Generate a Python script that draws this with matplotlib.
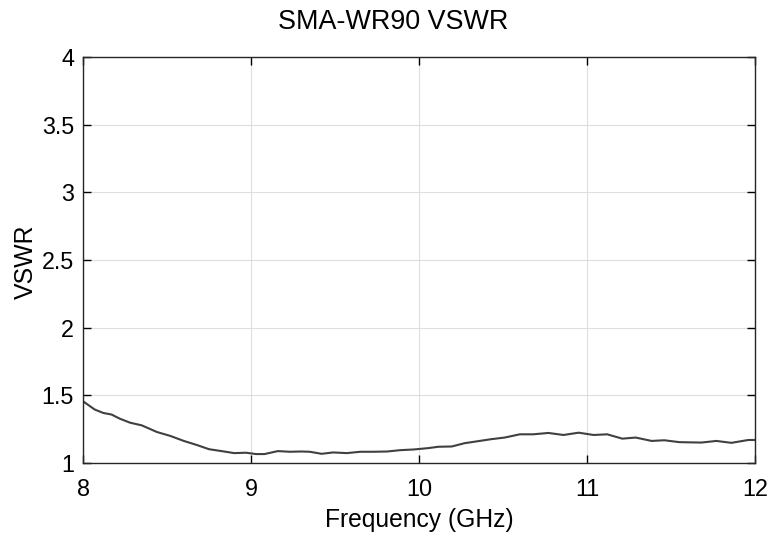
import numpy as np
import matplotlib
matplotlib.use("Agg")
import matplotlib.pyplot as plt

# VSWR
freq_ghz = [8.00, 8.07, 8.12, 8.17, 8.22, 8.28, 8.35, 8.44, 8.52, 8.60,
            8.68, 8.75, 8.84, 8.90, 8.97, 9.03, 9.08, 9.16, 9.23, 9.30,
            9.35, 9.42, 9.49, 9.57, 9.65, 9.73, 9.81, 9.89, 9.97, 10.055,
            10.115, 10.195, 10.27, 10.35, 10.43, 10.51, 10.60, 10.68, 10.77, 10.86,
            10.95, 11.04, 11.12, 11.21, 11.29, 11.385, 11.46, 11.55, 11.68, 11.77,
            11.86, 11.96, 12.00]
vswr = [1.456, 1.395, 1.370, 1.358, 1.327, 1.298, 1.278, 1.229, 1.200, 1.163,
        1.132, 1.102, 1.085, 1.073, 1.076, 1.066, 1.066, 1.088, 1.083, 1.085,
        1.083, 1.068, 1.078, 1.073, 1.083, 1.083, 1.085, 1.095, 1.100, 1.110,
        1.120, 1.122, 1.146, 1.161, 1.176, 1.188, 1.212, 1.212, 1.222, 1.207,
        1.224, 1.207, 1.212, 1.180, 1.188, 1.163, 1.168, 1.154, 1.151, 1.163,
        1.149, 1.170, 1.170]

x_ticks = [8, 9, 10, 11, 12]
y_ticks = [1, 1.5, 2, 2.5, 3, 3.5, 4]
y_tick_labels = ["1", "1.5", "2", "2.5", "3", "3.5", "4"]

plt.rcParams['font.family'] = ['Liberation Sans', 'DejaVu Sans']

W, H = 773, 535
fig = plt.figure(figsize=(W / 100, H / 100), dpi=100)
ax = fig.add_axes([83/W, 1 - 463/H, 672/W, 406/H])

ax.plot(freq_ghz, vswr, color="#404040", linewidth=1.5)

ax.set_xlim(8, 12)
ax.set_ylim(1, 4)
ax.set_xticks(x_ticks)
ax.set_yticks(y_ticks)
ax.set_yticklabels(y_tick_labels)
ax.tick_params(direction="in", top=True, right=True, labelsize=16.8, length=6, width=1)
ax.tick_params(axis="x", pad=11)
ax.tick_params(axis="y", pad=6.5)
ax.grid(True, color="#dedede", linewidth=0.8)
for s in ax.spines.values():
    s.set_linewidth(1)
    s.set_color("#262626")

# labels placed at baseline positions measured on the reference
fig.text(419.5/W, 1 - 527.5/H, "Frequency (GHz)", fontsize=17.7,
         ha="center", va="baseline")
fig.text(33/W, 1 - 262/H, "VSWR", fontsize=17.9, rotation=90,
         rotation_mode="anchor", ha="center", va="baseline")
fig.text(393/W, 1 - 29.3/H, "SMA-WR90 VSWR", fontsize=19.4,
         ha="center", va="baseline")

fig.savefig("out.png", dpi=100)
